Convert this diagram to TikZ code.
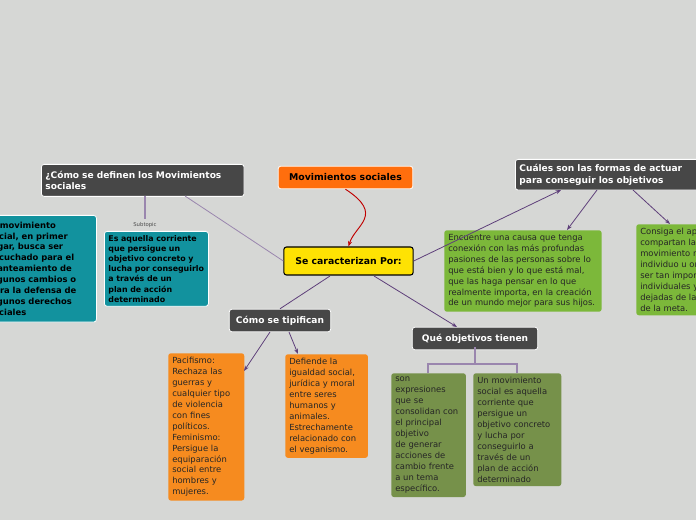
\documentclass[tikz,border=0pt]{standalone}
\usepackage{fontspec}
\setmainfont{DejaVu Sans}
\usetikzlibrary{arrows.meta}
\definecolor{bg}{HTML}{D6D7D5}
\definecolor{dk}{HTML}{474747}
\definecolor{ln}{HTML}{5E3F7A}
\definecolor{lnl}{HTML}{9A86AE}
\definecolor{tealc}{HTML}{12929E}
\definecolor{grnc}{HTML}{7CB83A}
\definecolor{ornc}{HTML}{F68B1F}
\definecolor{olvc}{HTML}{76914A}
\tikzset{
 box/.style={anchor=north west,rounded corners=2pt,inner sep=3pt,align=left,font=\fontsize{6.3}{8.2}\selectfont},
 dkbox/.style={box,fill=dk,text=white,font=\bfseries\fontsize{6.8}{8.5}\selectfont,draw=white,line width=0.6pt},
 teal/.style={box,fill=tealc,draw=white,line width=0.6pt,font=\bfseries\fontsize{6.3}{8.2}\selectfont},
 grn/.style={box,fill=grnc,text=black!85},
 orn/.style={box,fill=ornc,text=black!85},
 olv/.style={box,fill=olvc,text=black!85},
 conn/.style={ln,line width=0.6pt},
 arr/.style={conn,-{Stealth[length=4pt,width=3pt]}},
}
\begin{document}
\hyphenpenalty=10000 \exhyphenpenalty=10000
\begin{tikzpicture}[x=0.75pt,y=-0.75pt]
\useasboundingbox (0,0) rectangle (696,520);
\fill[bg] (0,0) rectangle (696,520);
\clip (0,0) rectangle (696,520);
\node[box,fill=orange!80!red!95,draw=white,line width=0.6pt,minimum width=101pt,minimum height=17pt,font=\bfseries\fontsize{7}{8.5}\selectfont,align=center,anchor=center] (ms) at (345.5,177.5) {Movimientos sociales};
\node[box,fill=yellow!85!orange,draw=black,line width=0.8pt,minimum width=97pt,minimum height=21pt,font=\bfseries\fontsize{7}{8.5}\selectfont,align=center,anchor=center] (sc) at (348.5,261) {Se caracterizan Por:};
\node[dkbox,text width=146pt,minimum height=24pt] (def) at (41,164) {¿Cómo se definen los Movimientos\\sociales};
\node[teal,text width=78pt,minimum height=80pt] (t1) at (-16,215) {El movimiento social, en primer lugar, busca ser escuchado para el planteamiento de algunos cambios o para la defensa de algunos derechos sociales};
\node[teal,text width=72pt,minimum height=52pt,font=\bfseries\fontsize{5.9}{7.6}\selectfont] (t2) at (104,231) {Es aquella corriente que persigue un objetivo concreto y lucha por conseguirlo a través de un plan de acción determinado};
\node[font=\fontsize{4}{5}\selectfont,text=black!70] (sub) at (145,225) {Subtopic};
\node[dkbox,text width=150pt,minimum height=23pt] (cu) at (515,159) {Cuáles son las formas de actuar\\para conseguir los objetivos};
\node[grn,text width=112pt,minimum height=59pt] (g1) at (444,230) {Encuentre una causa que tenga conexión con las más profundas pasiones de las personas sobre lo que está bien y lo que está mal, que las haga pensar en lo que realmente importa, en la creación de un mundo mejor para sus hijos.};
\node[grn,minimum width=80pt,minimum height=66pt] (g2) at (636,224) {Consiga el apoyo de quienes\\compartan las metas del\\movimiento no solo a nivel\\individuo u organización:\\ser tan importantes los\\individuales y colectivos\\dejadas de lado en pos\\de la meta.};
\node[dkbox,minimum width=76pt,minimum height=17pt,anchor=center,align=center] (ti) at (280,320.5) {Cómo se tipifican};
\node[orn,text width=51pt,minimum height=106pt] (o1) at (168,353) {Pacifismo: Rechaza las guerras y cualquier tipo de violencia con fines políticos. Feminismo: Persigue la equiparación social entre hombres y mujeres.};
\node[orn,text width=56pt,minimum height=75pt] (o2) at (285,354) {Defiende la igualdad social, jurídica y moral entre seres humanos y animales. Estrechamente relacionado con el veganismo.};
\node[dkbox,minimum width=94pt,minimum height=17pt,anchor=center,align=center] (qo) at (475,338.5) {Qué objetivos tienen};
\node[olv,text width=50pt,minimum height=91pt] (v1) at (391,373) {son\\expresiones que se consolidan con el principal objetivo de generar acciones de cambio frente a un tema específico.};
\node[olv,text width=60pt,minimum height=82pt] (v2) at (473,373) {Un movimiento social es aquella corriente que persigue un objetivo concreto y lucha por conseguirlo a través de un plan de acción determinado};
\coordinate (defb) at (185,196);
\draw[lnl,line width=0.6pt] (sc.west) -- (defb);
\draw[lnl,line width=0.8pt] (145,196) -- (145,219);
\draw[red!75!black,line width=0.7pt,-{Stealth[length=4pt,width=3pt]}] (ms.south) .. controls (385,215) and (355,225) .. (sc.north);
\draw[arr] (sc.east) -- (561,190);
\draw[arr] (597,190) -- (567,230);
\draw[arr] (633,190) -- (670,224);
\draw[conn] (330,276) -- (ti.north);
\draw[arr] (270,332) -- (244,371);
\draw[arr] (289,332) -- (298,354);
\draw[arr] (374,276) -- (457,327);
\draw[lnl,line width=0.8pt] (475,347) -- (475,364) (428,373) -- (428,364) -- (517,364) -- (517,373);
\end{tikzpicture}
\end{document}
